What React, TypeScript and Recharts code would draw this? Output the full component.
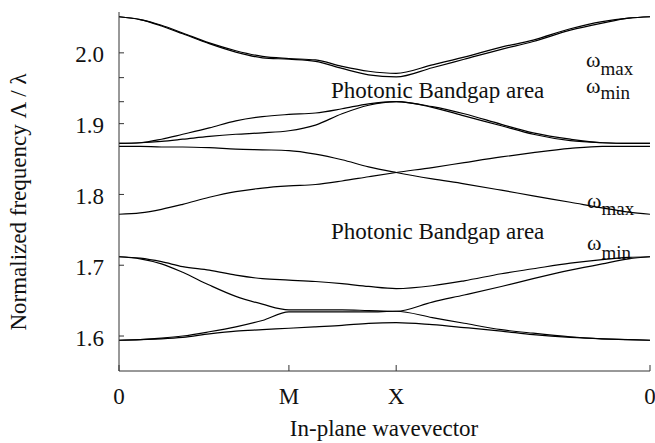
import React from 'react';
import { LineChart, Line, XAxis, YAxis } from 'recharts';

const FONT = '"Liberation Serif", "Times New Roman", Times, serif';
const INK = '#111';
const FRAME = '#333';

// In-plane wavevector positions along the path 0 -> M -> X -> 0 (normalized)
const kPoints = [0, 0.04, 0.08, 0.12, 0.17, 0.22, 0.27, 0.32, 0.37, 0.42, 0.47, 0.522, 0.59, 0.65, 0.72, 0.78, 0.85, 0.91, 0.96, 1.0];
const kTickValues = [0, 0.32, 0.522, 1];
const kTickLabels = ['0', 'M', 'X', '0'];

const freqTicks = [1.6, 1.7, 1.8, 1.9, 2.0];
const gapEdgeTicks = [1.931, 1.965];
const rightTicks = [1.712, 1.772, 1.931, 1.965];

// Normalized frequency of each band
const band1 = [1.594, 1.595, 1.596, 1.598, 1.603, 1.607, 1.609, 1.611, 1.613, 1.615, 1.618, 1.619, 1.616, 1.612, 1.607, 1.602, 1.598, 1.596, 1.595, 1.594];
const band2 = [1.594, 1.595, 1.597, 1.600, 1.606, 1.613, 1.622, 1.634, 1.634, 1.634, 1.634, 1.635, 1.626, 1.618, 1.609, 1.604, 1.599, 1.596, 1.595, 1.594];
const band3 = [1.712, 1.709, 1.702, 1.690, 1.672, 1.656, 1.645, 1.637, 1.637, 1.637, 1.636, 1.635, 1.648, 1.658, 1.670, 1.681, 1.693, 1.702, 1.709, 1.712];
const band4 = [1.712, 1.710, 1.705, 1.698, 1.693, 1.686, 1.681, 1.679, 1.677, 1.674, 1.670, 1.667, 1.671, 1.678, 1.688, 1.695, 1.703, 1.708, 1.711, 1.712];
const band5 = [1.772, 1.774, 1.779, 1.786, 1.796, 1.804, 1.809, 1.812, 1.814, 1.819, 1.825, 1.831, 1.838, 1.845, 1.853, 1.859, 1.865, 1.868, 1.868, 1.868];
const band6 = [1.868, 1.868, 1.867, 1.867, 1.866, 1.864, 1.863, 1.862, 1.857, 1.849, 1.839, 1.831, 1.822, 1.815, 1.806, 1.798, 1.789, 1.781, 1.775, 1.772];
const band7 = [1.872, 1.873, 1.878, 1.885, 1.894, 1.904, 1.910, 1.913, 1.915, 1.921, 1.928, 1.931, 1.924, 1.914, 1.899, 1.887, 1.878, 1.873, 1.872, 1.872];
const band8 = [1.872, 1.873, 1.875, 1.878, 1.882, 1.885, 1.887, 1.890, 1.898, 1.914, 1.926, 1.931, 1.923, 1.911, 1.897, 1.885, 1.876, 1.873, 1.872, 1.872];
const band9 = [2.051, 2.047, 2.039, 2.028, 2.014, 2.003, 1.995, 1.992, 1.990, 1.981, 1.974, 1.971, 1.983, 1.994, 2.008, 2.018, 2.034, 2.044, 2.049, 2.051];
const band10 = [2.051, 2.047, 2.038, 2.027, 2.013, 2.001, 1.993, 1.991, 1.988, 1.978, 1.969, 1.966, 1.979, 1.991, 2.005, 2.016, 2.032, 2.042, 2.049, 2.051];

const bands = [band1, band2, band3, band4, band5, band6, band7, band8, band9, band10];

const data = kPoints.map((k, i) => {
  const row: Record<string, number> = { k };
  bands.forEach((b, j) => {
    row['b' + j] = b[i];
  });
  return row;
});

const Y_DOMAIN: [number, number] = [1.5506, 2.0577];

const LeftTick = (props: any) => {
  const { x, y, payload } = props;
  const v = payload.value;
  const labeled = freqTicks.some((t) => Math.abs(t - v) < 1e-6);
  return (
    <g>
      <line x1={x} x2={x + 5} y1={y} y2={y} stroke={FRAME} strokeWidth={1} />
      {labeled && (
        <text x={x - 15} y={y + 9.5} textAnchor="end" fontSize={23} fontFamily={FONT} fill={INK}>
          {v.toFixed(1)}
        </text>
      )}
    </g>
  );
};

const RightTick = (props: any) => {
  const { x, y } = props;
  return <line x1={x - 6} x2={x} y1={y} y2={y} stroke={FRAME} strokeWidth={1} />;
};

const BottomTick = (props: any) => {
  const { x, y, payload, index } = props;
  const label = kTickLabels[index] ?? String(payload.value);
  return (
    <g>
      <line x1={x} x2={x} y1={y} y2={y - 6} stroke={FRAME} strokeWidth={1} />
      <text x={x} y={y + 33} textAnchor="middle" fontSize={23} fontFamily={FONT} fill={INK}>
        {label}
      </text>
    </g>
  );
};

const Omega = ({ x, y, sub, dy }: { x: number; y: number; sub: string; dy: number }) => (
  <text x={x} y={y} fontSize={22} fontFamily={FONT} fill={INK}>
    ω
    <tspan fontSize={19} dy={dy}>
      {sub}
    </tspan>
  </text>
);

export default function App() {
  return (
    <div style={{ position: 'absolute', left: 0, top: 0, width: 655, height: 443, background: '#fff' }}>
      <LineChart
        width={655}
        height={443}
        data={data}
        margin={{ top: 12, right: 5, bottom: 0, left: 0 }}
      >
        <XAxis
          dataKey="k"
          type="number"
          domain={[0, 1]}
          ticks={kTickValues}
          interval={0}
          height={72}
          tickSize={0}
          tickMargin={0}
          tickLine={false}
          axisLine={{ stroke: FRAME, strokeWidth: 1 }}
          tick={<BottomTick />}
          allowDataOverflow
        />
        <XAxis
          xAxisId="top"
          orientation="top"
          dataKey="k"
          type="number"
          domain={[0, 1]}
          height={0}
          tick={false}
          tickLine={false}
          axisLine={{ stroke: FRAME, strokeWidth: 1 }}
        />
        <YAxis
          type="number"
          domain={Y_DOMAIN}
          ticks={[...freqTicks, ...gapEdgeTicks].sort((a, b) => a - b)}
          interval={0}
          width={119}
          tickSize={0}
          tickMargin={0}
          tickLine={false}
          axisLine={{ stroke: FRAME, strokeWidth: 1 }}
          tick={<LeftTick />}
          allowDataOverflow
        />
        <YAxis
          yAxisId="right"
          orientation="right"
          type="number"
          domain={Y_DOMAIN}
          ticks={rightTicks}
          interval={0}
          width={0}
          tickSize={0}
          tickMargin={0}
          tickLine={false}
          axisLine={{ stroke: FRAME, strokeWidth: 1 }}
          tick={<RightTick />}
          allowDataOverflow
        />
        {bands.map((_, j) => (
          <Line
            key={j}
            dataKey={'b' + j}
            type="monotone"
            stroke="#000"
            strokeWidth={1.2}
            dot={false}
            activeDot={false}
            isAnimationActive={false}
          />
        ))}
        <text x={331} y={98} fontSize={23} fontFamily={FONT} fill={INK}>
          Photonic Bandgap area
        </text>
        <text x={331} y={239} fontSize={23} fontFamily={FONT} fill={INK}>
          Photonic Bandgap area
        </text>
        <Omega x={586} y={67} sub="max" dy={8} />
        <Omega x={586} y={93} sub="min" dy={6} />
        <Omega x={587} y={208} sub="max" dy={7} />
        <Omega x={587} y={250} sub="min" dy={9} />
        <text x={384} y={436} textAnchor="middle" fontSize={23} fontFamily={FONT} fill={INK}>
          In-plane wavevector
        </text>
        <text
          x={26}
          y={202}
          transform="rotate(-90, 26, 202)"
          textAnchor="middle"
          fontSize={23}
          fontFamily={FONT}
          fill={INK}
        >
          Normalized frequency Λ / λ
        </text>
      </LineChart>
    </div>
  );
}
